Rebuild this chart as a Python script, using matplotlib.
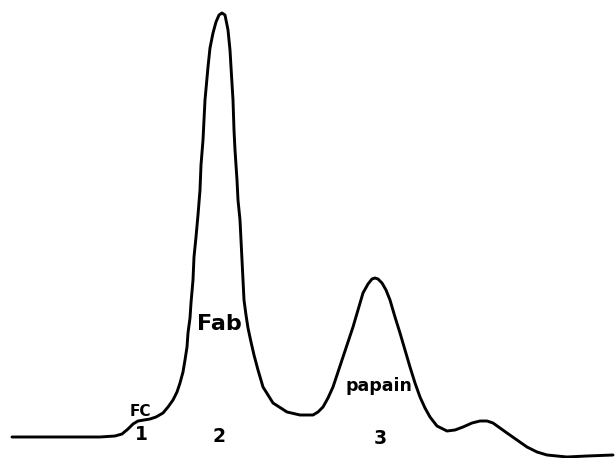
#Elution profile of papain digest: FC, Fab and papain peaks
import numpy as np
import matplotlib.pyplot as plt

#Trace (x position, height with 0 at the top)
xs = [12, 60, 100, 115, 122, 128, 133, 138, 144, 150, 156, 163, 168, 173, 177, 180,
      183, 185, 187, 188, 190, 191, 193, 194, 196, 198, 200, 201, 203, 205, 208, 210,
      213, 216, 219, 222, 225, 228, 230, 231, 233, 234, 235, 237, 238, 240, 241, 242,
      243, 244, 246, 248, 251, 254, 258, 263, 273, 287, 300, 313, 318, 323, 328, 333,
      338, 343, 348, 353, 358, 363, 368, 372, 375, 378, 382, 386, 390, 395, 400, 405,
      410, 415, 420, 425, 430, 437, 447, 455, 463, 472, 480, 487, 493, 500, 507, 517,
      527, 537, 547, 567, 587, 613]
ys = [437, 437, 437, 436, 434, 429, 424, 421, 420, 419, 417, 413, 407, 400, 392, 383,
      372, 360, 347, 333, 318, 303, 280, 257, 237, 215, 190, 165, 140, 100, 67, 48,
      33, 22, 15, 13, 15, 30, 50, 67, 100, 130, 150, 180, 200, 220, 240, 260,
      280, 300, 315, 328, 342, 355, 370, 387, 403, 412, 415, 415, 412, 407, 398, 387,
      372, 357, 342, 327, 310, 293, 284, 279, 278, 279, 283, 290, 300, 317, 333, 350,
      367, 383, 397, 408, 417, 426, 431, 430, 427, 423, 421, 421, 423, 428, 433, 440,
      447, 452, 455, 457, 456, 455]

#Peak labels
labels = ['FC', '1', 'Fab', '2', 'papain', '3']
lab_x = [140, 141, 219, 219, 379, 380]
lab_y = [411, 435, 324, 436, 386, 439]
lab_size = [11, 13.5, 16, 13.5, 12.5, 13.5]

fig = plt.figure(figsize=(6.16, 4.58), dpi=100)
ax = fig.add_axes([0, 0, 1, 1])
ax.plot(xs, ys, color='black', lw=2.1, solid_capstyle='round', solid_joinstyle='round')

for i, txt in enumerate(labels):
    ax.text(lab_x[i], lab_y[i], txt, ha='center', va='center',
            fontsize=lab_size[i], fontweight='bold', color='black')

ax.set_xlim(0, 616)
ax.set_ylim(458, 0)
ax.axis('off')

plt.savefig('out.png', dpi=100)
